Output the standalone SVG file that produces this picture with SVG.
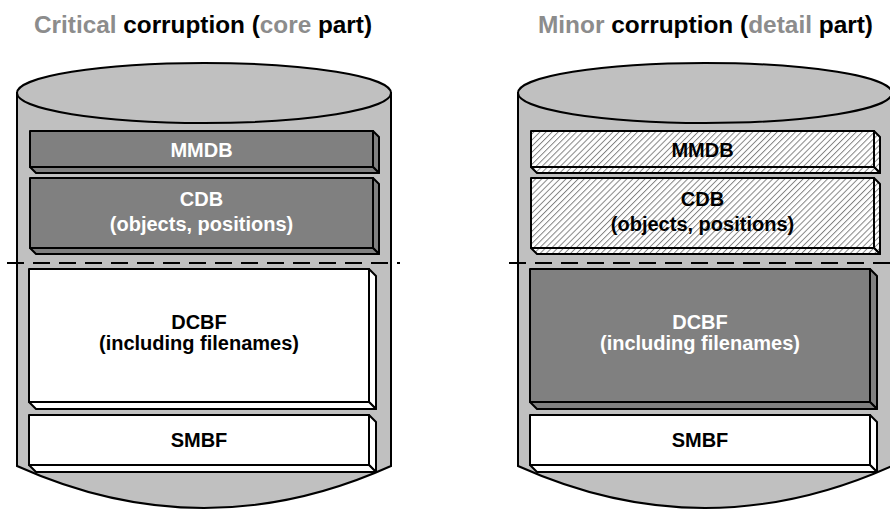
<svg xmlns="http://www.w3.org/2000/svg" width="890" height="510" viewBox="0 0 890 510">
  <defs>
    <pattern id="hatch" patternUnits="userSpaceOnUse" width="4.3" height="4.3" patternTransform="rotate(45)">
      <rect x="0" y="0" width="4.3" height="4.3" fill="#ffffff"/>
      <line x1="0.5" y1="0" x2="0.5" y2="4.3" stroke="#7a7a7a" stroke-width="0.9"/>
    </pattern>
  </defs>
  <style>
    .cyl { fill: #c0c0c0; stroke: #000; stroke-width: 2; }
    .box { stroke: #000; stroke-width: 2; stroke-linejoin: round; }
    .dark { fill: #808080; }
    .white { fill: #ffffff; }
    .hatched { fill: url(#hatch); }
    .title { font-family: "Liberation Sans", Arial, sans-serif; font-weight: bold; font-size: 24px; fill: #000; }
    .grey { fill: #8c8c8c; }
    .lbl { font-family: "Liberation Sans", Arial, sans-serif; font-weight: bold; font-size: 20px; text-anchor: middle; }
    .lw { fill: #ffffff; }
    .lb { fill: #000000; }
    .sep { stroke: #000; stroke-width: 2; stroke-dasharray: 17 9; fill: none; }
  </style>

  <g id="title-left">
    <text class="title" x="34" y="33" textLength="338" lengthAdjust="spacingAndGlyphs"><tspan class="grey">Critical</tspan> corruption (<tspan class="grey">core</tspan> part)</text>
  </g>
  <g id="title-right">
    <text class="title" x="538" y="33" textLength="335" lengthAdjust="spacingAndGlyphs"><tspan class="grey">Minor</tspan> corruption (<tspan class="grey">detail</tspan> part)</text>
  </g>

  <!-- Left cylinder -->
  <g id="cylinder-left">
    <path class="cyl" d="M17,93 L17,466 Q204,550 391,466 L391,93 Z"/>
    <ellipse class="cyl" cx="204" cy="93" rx="187" ry="30"/>
  </g>
  <g id="mmdb-left">
    <rect class="box dark" x="30" y="131" width="343" height="36"/>
    <polygon class="box dark" points="373,131 379,137 379,173 373,167"/>
    <polygon class="box dark" points="30,167 373,167 379,173 36,173"/>
    <text class="lbl lw" x="201.5" y="157">MMDB</text>
  </g>
  <g id="cdb-left">
    <rect class="box dark" x="30" y="178" width="343" height="70"/>
    <polygon class="box dark" points="373,178 379,184 379,254 373,248"/>
    <polygon class="box dark" points="30,248 373,248 379,254 36,254"/>
    <text class="lbl lw" x="201.5" y="206">CDB</text>
    <text class="lbl lw" x="201.5" y="231">(objects, positions)</text>
  </g>
  <g id="dcbf-left">
    <rect class="box white" x="29" y="269" width="340" height="133"/>
    <polygon class="box white" points="369,269 376,276 376,409 369,402"/>
    <polygon class="box white" points="29,402 369,402 376,409 36,409"/>
    <text class="lbl lb" x="199" y="329">DCBF</text>
    <text class="lbl lb" x="199" y="350">(including filenames)</text>
  </g>
  <g id="smbf-left">
    <rect class="box white" x="29" y="415" width="340" height="50"/>
    <polygon class="box white" points="369,415 376,422 376,472 369,465"/>
    <polygon class="box white" points="29,465 369,465 376,472 36,472"/>
    <text class="lbl lb" x="199" y="447">SMBF</text>
  </g>

  <!-- Right cylinder -->
  <g transform="translate(501,0)">
    <g id="cylinder-right">
      <path class="cyl" d="M17,93 L17,466 Q204,550 391,466 L391,93 Z"/>
      <ellipse class="cyl" cx="204" cy="93" rx="187" ry="30"/>
    </g>
    <g id="mmdb-right">
      <rect class="box hatched" x="30" y="131" width="343" height="36"/>
      <polygon class="box hatched" points="373,131 379,137 379,173 373,167"/>
      <polygon class="box hatched" points="30,167 373,167 379,173 36,173"/>
      <text class="lbl lb" x="201.5" y="157">MMDB</text>
    </g>
    <g id="cdb-right">
      <rect class="box hatched" x="30" y="178" width="343" height="70"/>
      <polygon class="box hatched" points="373,178 379,184 379,254 373,248"/>
      <polygon class="box hatched" points="30,248 373,248 379,254 36,254"/>
      <text class="lbl lb" x="201.5" y="206">CDB</text>
      <text class="lbl lb" x="201.5" y="231">(objects, positions)</text>
    </g>
    <g id="dcbf-right">
      <rect class="box dark" x="29" y="269" width="340" height="133"/>
      <polygon class="box dark" points="369,269 376,276 376,409 369,402"/>
      <polygon class="box dark" points="29,402 369,402 376,409 36,409"/>
      <text class="lbl lw" x="199" y="329">DCBF</text>
      <text class="lbl lw" x="199" y="350">(including filenames)</text>
    </g>
    <g id="smbf-right">
      <rect class="box white" x="29" y="415" width="340" height="50"/>
      <polygon class="box white" points="369,415 376,422 376,472 369,465"/>
      <polygon class="box white" points="29,465 369,465 376,472 36,472"/>
      <text class="lbl lb" x="199" y="447">SMBF</text>
    </g>
  </g>

  <g id="connectors">
    <line class="sep" x1="7" y1="263" x2="400" y2="263"/>
    <line class="sep" x1="509" y1="263" x2="890" y2="263"/>
  </g>
</svg>
